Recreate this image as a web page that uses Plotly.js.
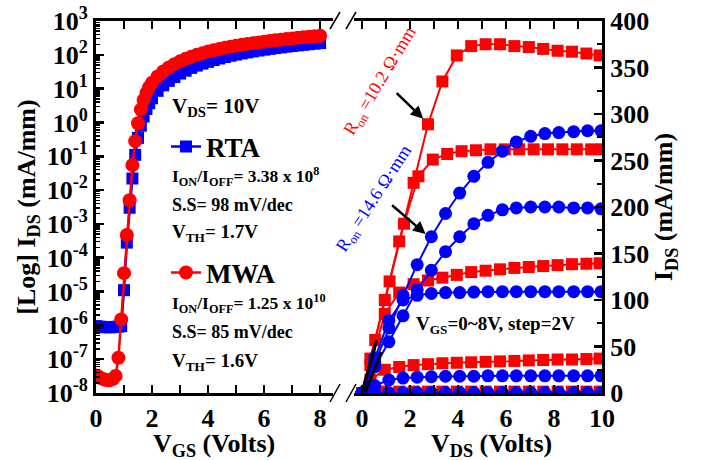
<!DOCTYPE html>
<html><head><meta charset="utf-8">
<script src="https://cdn.plot.ly/plotly-3.0.1.min.js"></script>
<style>html,body{margin:0;padding:0;background:#fff}#chart{width:705px;height:460px}</style>
</head><body><div id="chart"></div>
<script>
// ---------- Transfer curves (left panel), VDS = 10 V ----------
const rtaVgs = [0,0.1,0.2,0.3,0.4,0.5,0.6,0.7,0.8,0.9,1.0,1.1,1.2,1.3,1.4,1.5,1.6,1.7,1.8,1.9,
  2.0,2.2,2.4,2.6,2.8,3.0,3.2,3.4,3.6,3.8,4.0,4.2,4.4,4.6,4.8,5.0,5.2,5.4,5.6,5.8,6.0,6.2,6.4,6.6,6.8,7.0,7.2,7.4,7.6,7.8,8.0];
const rtaIds = [9.5e-7,9.2e-7,9.0e-7,8.9e-7,8.8e-7,8.8e-7,8.9e-7,9.0e-7,9.2e-7,9.5e-7,1.1e-5,2.8e-4,3.0e-3,0.022,0.11,0.35,0.8,1.5,2.5,3.7,
  5.2,8.6,12.5,17,22,28,34,41,48,55,62,70,78,86,94,102,110,118,126,134,142,150,158,166,174,182,190,198,206,214,222];
const mwaVgs = [0,0.1,0.2,0.3,0.4,0.5,0.6,0.7,0.8,0.9,1.0,1.1,1.2,1.3,1.4,1.5,1.6,1.7,1.8,1.9,
  2.0,2.2,2.4,2.6,2.8,3.0,3.2,3.4,3.6,3.8,4.0,4.2,4.4,4.6,4.8,5.0,5.2,5.4,5.6,5.8,6.0,6.2,6.4,6.6,6.8,7.0,7.2,7.4,7.6,7.8,8.0];
const mwaIds = [3.3e-8,3.0e-8,2.7e-8,2.5e-8,2.4e-8,2.4e-8,2.6e-8,3.2e-8,1.1e-7,1.5e-6,3.5e-5,4.7e-4,5.0e-3,0.055,0.28,0.95,2.4,4.6,7.5,11,
  15,23,32,42,53,64,76,88,100,112,125,137,149,161,173,185,197,209,221,233,245,257,269,281,293,305,317,329,341,353,365];
const logTickVals = [1e-8,1e-7,1e-6,1e-5,1e-4,1e-3,1e-2,1e-1,1,1e1,1e2,1e3];
const logTickText = ['10<sup>-8</sup>','10<sup>-7</sup>','10<sup>-6</sup>','10<sup>-5</sup>','10<sup>-4</sup>','10<sup>-3</sup>',
  '10<sup>-2</sup>','10<sup>-1</sup>','10<sup>0</sup>','10<sup>1</sup>','10<sup>2</sup>','10<sup>3</sup>'];

// ---------- Output curves (right panel) ----------
const rtaVds = [0,0.53,1.12,1.71,2.3,2.89,3.48,4.07,4.66,5.25,5.85,6.43,7.03,7.62,8.2,8.82,9.4,9.96];
const rtaId0 = [0,0.3,0.4,0.5,0.5,0.5,0.5,0.5,0.5,0.5,0.5,0.5,0.5,0.5,0.5,0.5,0.5,0.5];
const rtaId2 = [0,8,14,16,17,17.5,18,18,18,18.5,18.5,18.5,18.5,18.5,18.5,18.5,18.5,18.5];
const rtaId4 = [0,38,78,100,105,107,108,108,108.5,109,109,109,109,109,109,109,109,109];
const rtaId6 = [0,28,55,83,111,132,152,168,182,191,197,199,200,200,200,199,199,198];
const rtaId8 = [0,33,70,105,138,168,193,215,233,248,260,270,276,279,280,281,282,282];

const mwaVdsA = [0,0.35,0.95,1.55,2.15,2.75,3.35,3.95,4.55,5.15,5.75,6.35,6.95,7.55,8.15,8.75,9.35,9.9];
const mwaVdsB = [0,0.55,1.15,1.75,2.35,2.95,3.55,4.15,4.75,5.35,5.95,6.55,7.15,7.75,8.35,8.95,9.55,10];
const mwaId0 = [0,1,1.5,1.5,1.5,1.5,1.5,1.5,1.5,1.5,1.5,1.5,1.5,1.5,1.5,1.5,1.5,1.5];
const mwaId2 = [0,14,25,28,30,31,32,32.5,33,33.5,34,34.5,35,35.5,36,36,36.5,37];
const mwaId4 = [0,30,85,108,117,121,124,127,130,131.5,133,134.5,135.5,136.5,137.5,138.5,139,139.5];
const mwaId6 = [0,57,120,182,233,251,257,260,261,262,262,262,262,262,262,262,262,262];
const mwaId8 = [0,37,100,163,226,289,335,363,373,375,375,373,372,370,368,367,365,363];

// linear-fit guide lines near the origin
const fitAx = [0,0.61], fitAy = [1,57];
const fitBx = [0.13,0.82], fitBy = [1,44];

const RED = '#ff0000', BLUE = '#0000ff';
const FONT = 'Liberation Serif, Times New Roman, serif';
const W = 705, H = 460, ML = 96, MR = 103, MT = 21, MB = 67;
const pw = W - ML - MR, ph = H - MT - MB;
const px = p => (p - ML) / pw;
const py = p => (H - MB - p) / ph;

const traces = [];
traces.push({x: rtaVgs, y: rtaIds, xaxis:'x', yaxis:'y', mode:'lines+markers', name:'RTA',
  line:{color:BLUE,width:2.5}, marker:{symbol:'square',size:12,color:BLUE}, legend:'legend', showlegend:true});
traces.push({x: mwaVgs, y: mwaIds, xaxis:'x', yaxis:'y', mode:'lines+markers', name:'MWA',
  line:{color:RED,width:2.5}, marker:{symbol:'circle',size:14,color:RED}, legend:'legend2', showlegend:true});

const redSets = [[mwaVdsA,mwaId0],[mwaVdsA,mwaId2],[mwaVdsA,mwaId4],[mwaVdsB,mwaId6],[mwaVdsA,mwaId8]];
redSets.forEach(s => traces.push({x:s[0], y:s[1], xaxis:'x2', yaxis:'y2', mode:'lines+markers', showlegend:false,
  line:{color:RED,width:2}, marker:{symbol:'square',size:12,color:RED}}));
const blueSets = [rtaId0, rtaId2, rtaId4, rtaId6, rtaId8];
blueSets.forEach(s => traces.push({x:rtaVds, y:s, xaxis:'x2', yaxis:'y2', mode:'lines+markers', showlegend:false,
  line:{color:BLUE,width:2}, marker:{symbol:'circle',size:13,color:BLUE}}));
traces.push({x:fitAx, y:fitAy, xaxis:'x2', yaxis:'y2', mode:'lines', showlegend:false, line:{color:'#000',width:3}});
traces.push({x:fitBx, y:fitBy, xaxis:'x2', yaxis:'y2', mode:'lines', showlegend:false, line:{color:'#000',width:3}});

const tickF = {family:FONT, size:26, color:'#000', weight:'bold'};
const titleF = {family:FONT, size:26, color:'#000', weight:'bold'};
const axBase = {showline:true, linewidth:3, linecolor:'#000', ticks:'inside', ticklen:8, tickwidth:2.5, tickcolor:'#000',
  showgrid:false, zeroline:false, tickfont:tickF};

const splitX = px(333), startX2 = px(354);

function txt(x, y, text, size, extra) {
  return Object.assign({xref:'paper', yref:'paper', x:px(x), y:py(y), text:text, showarrow:false,
    xanchor:'left', yanchor:'middle', font:{family:FONT, size:size, color:'#000', weight:'bold'}}, extra || {});
}

const annotations = [
  txt(214,445,'V<sub>GS</sub> (Volts)',26,{xanchor:'center'}),
  txt(491,445,'V<sub>DS</sub> (Volts)',26,{xanchor:'center'}),
  txt(170,107,'V<sub>DS</sub>= 10V',21),
  txt(170,176,'I<sub>ON</sub>/I<sub>OFF</sub>= 3.38 x 10<sup>8</sup>',17.5),
  txt(170,205,'S.S= 98 mV/dec',18),
  txt(170,233,'V<sub>TH</sub>= 1.7V',19),
  txt(170,303,'I<sub>ON</sub>/I<sub>OFF</sub>= 1.25 x 10<sup>10</sup>',17.5),
  txt(170,332,'S.S= 85 mV/dec',18),
  txt(170,362,'V<sub>TH</sub>= 1.6V',19),
  txt(414,325,'V<sub>GS</sub>=0~8V, step=2V',19),
  txt(381,82,'R<sub>on</sub> =10.2 Ω·mm',18,{xanchor:'center',textangle:-59,font:{family:FONT,size:18,color:RED}}),
  txt(374,199,'R<sub>on</sub> =14.6 Ω·mm',18,{xanchor:'center',textangle:-57,font:{family:FONT,size:18,color:BLUE}}),
  {xref:'x2', yref:'y2', x:2.55, y:295, ax:-28, ay:-27, text:'', showarrow:true, arrowhead:2, arrowsize:1, arrowwidth:2.5, arrowcolor:'#000'},
  {xref:'x2', yref:'y2', x:2.65, y:171, ax:-35, ay:-30, text:'', showarrow:true, arrowhead:2, arrowsize:1, arrowwidth:2.5, arrowcolor:'#000'}
];

const brk = (x0,y0,x1,y1) => ({type:'line', xref:'paper', yref:'paper', x0:px(x0), y0:py(y0), x1:px(x1), y1:py(y1), line:{color:'#000', width:1.5}});
const shapes = [brk(330,29,340,12), brk(346,29,356,12), brk(330,402,340,384), brk(346,402,356,384)];

const layout = {
  width:W, height:H, margin:{l:ML, r:MR, t:MT, b:MB}, paper_bgcolor:'#fff', plot_bgcolor:'rgba(0,0,0,0)',
  font:{family:FONT},
  xaxis:Object.assign({}, axBase, {domain:[0,splitX], range:[0,8.46], anchor:'y', dtick:2, tick0:0, mirror:'allticks',
    minor:{dtick:1, ticks:'inside', ticklen:8, tickwidth:2, tickcolor:'#000'}}),
  yaxis:Object.assign({}, axBase, {type:'log', range:[-8,3], tickmode:'array', tickvals:logTickVals, ticktext:logTickText,
    anchor:'x', minor:{dtick:'D1', ticks:'inside', ticklen:4, tickwidth:1.5, tickcolor:'#000'},
    title:{text:'[Log] I<sub>DS</sub> (mA/mm)', font:titleF, standoff:4}}),
  xaxis2:Object.assign({}, axBase, {domain:[startX2,1], range:[-0.333,10], anchor:'y2', dtick:2, tick0:0, mirror:'allticks',
    minor:{dtick:1, ticks:'inside', ticklen:8, tickwidth:2, tickcolor:'#000'}}),
  yaxis2:Object.assign({}, axBase, {range:[0,400], dtick:50, anchor:'x2', side:'right',
    minor:{dtick:25, ticks:'inside', ticklen:5, tickwidth:2, tickcolor:'#000'},
    title:{text:'I<sub>DS</sub> (mA/mm)', font:titleF, standoff:4}}),
  legend:{x:px(166), y:py(147), xanchor:'left', yanchor:'middle', bgcolor:'rgba(0,0,0,0)',
    font:{family:FONT, size:27, color:'#000', weight:'bold'}, itemwidth:30},
  legend2:{x:px(166), y:py(273), xanchor:'left', yanchor:'middle', bgcolor:'rgba(0,0,0,0)',
    font:{family:FONT, size:27, color:'#000', weight:'bold'}, itemwidth:30},
  annotations:annotations, shapes:shapes
};

Plotly.newPlot('chart', traces, layout, {displayModeBar:false, staticPlot:true});
</script></body></html>
